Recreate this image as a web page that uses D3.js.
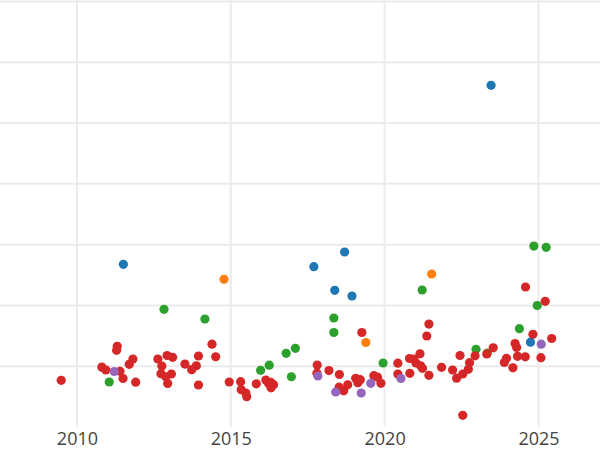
<!DOCTYPE html>
<html>
<head>
<meta charset="utf-8">
<script src="https://cdn.jsdelivr.net/npm/d3@7"></script>
<style>
  html, body { margin: 0; padding: 0; background: #fff; }
  svg { display: block; }
</style>
</head>
<body>
<svg id="chart" width="600" height="450"></svg>
<script>
// ---- Data (year, value) per series ----
const blueX   = [2011.51, 2017.70, 2018.70, 2018.38, 2018.94, 2023.46, 2024.74];
const blueY   = [2.676, 2.637, 2.879, 2.249, 2.155, 5.621, 1.395];

const orangeX = [2014.78, 2019.39, 2021.53];
const orangeY = [2.430, 1.390, 2.517];

const greenX  = [2011.05, 2012.83, 2014.16, 2015.97, 2016.25, 2016.80, 2017.10, 2016.97, 2018.35, 2018.35,
                 2019.95, 2021.22, 2022.97, 2023.34, 2024.38, 2024.85, 2025.25, 2024.96];
const greenY  = [0.740, 1.936, 1.777, 0.933, 1.017, 1.212, 1.295, 0.827, 1.793, 1.555,
                 1.053, 2.254, 1.278, 1.217, 1.617, 2.977, 2.956, 1.999];

const redX = [2009.49, 2011.31, 2011.29, 2010.81, 2010.94, 2011.40, 2011.50, 2011.91, 2011.82, 2011.70,
              2012.63, 2012.76, 2012.93, 2013.11, 2012.73, 2012.89, 2013.07, 2012.95, 2013.51, 2013.73,
              2013.88, 2013.95, 2013.95, 2014.39, 2014.51, 2014.95, 2015.32, 2015.34, 2015.49, 2015.52,
              2015.83, 2016.14, 2016.23, 2016.30, 2016.39, 2016.31, 2017.81, 2017.80, 2018.19, 2018.53,
              2018.52, 2018.67, 2018.80, 2019.06, 2019.21, 2019.13, 2019.26, 2019.65, 2019.77, 2019.88,
              2020.43, 2020.43, 2020.82, 2020.81, 2020.95, 2021.15, 2021.02, 2021.17, 2021.23, 2021.44,
              2021.44, 2021.37, 2021.85, 2022.21, 2022.34, 2022.54, 2022.45, 2022.76, 2022.72, 2022.94,
              2023.32, 2023.53, 2022.54, 2023.89, 2023.96, 2024.17, 2024.24, 2024.29, 2024.32, 2024.57,
              2024.58, 2024.82, 2025.22, 2025.43, 2025.08];
const redY = [0.768, 1.328, 1.262, 0.985, 0.938, 0.916, 0.798, 0.737, 1.119, 1.031,
              1.119, 1.003, 1.176, 1.147, 0.877, 0.827, 0.872, 0.716, 1.036, 0.943,
              1.008, 1.168, 0.691, 1.362, 1.156, 0.740, 0.745, 0.614, 0.559, 0.498,
              0.711, 0.773, 0.716, 0.735, 0.696, 0.645, 1.020, 0.885, 0.929, 0.864,
              0.655, 0.595, 0.694, 0.801, 0.778, 0.729, 1.555, 0.844, 0.819, 0.719,
              1.050, 0.872, 0.883, 1.127, 1.119, 1.204, 1.053, 1.008, 0.966, 0.850,
              1.694, 1.497, 0.982, 0.938, 0.803, 0.872, 1.176, 1.058, 0.949, 1.171,
              1.201, 1.303, 0.192, 1.061, 1.130, 0.974, 1.374, 1.308, 1.163, 1.155,
              2.303, 1.525, 2.068, 1.456, 1.140];

const purpleX = [2011.21, 2017.83, 2018.41, 2019.24, 2019.55, 2020.53, 2025.09];
const purpleY = [0.913, 0.839, 0.576, 0.559, 0.719, 0.798, 1.362];

const xTicks = [2010, 2015, 2020, 2025];
const xTickLabels = ["2010", "2015", "2020", "2025"];
const yGrid = [1, 2, 3, 4, 5, 6, 7];

const series = [
  { xs: blueX,   ys: blueY,   color: "#1f77b4" },
  { xs: orangeX, ys: orangeY, color: "#ff7f0e" },
  { xs: greenX,  ys: greenY,  color: "#2ca02c" },
  { xs: redX,    ys: redY,    color: "#d62728" },
  { xs: purpleX, ys: purpleY, color: "#9467bd" }
];

// ---- Layout ----
const svg = d3.select("#chart");
const W = 600, H = 450;
const plotTop = 1.5, plotBottom = 427;

const x = d3.scaleLinear().domain([2007.5, 2027]).range([0, W]);
const y = d3.scaleLinear().domain([0, 7]).range([plotBottom, plotTop]);

svg.append("rect").attr("width", W).attr("height", H).attr("fill", "#fff");

// Horizontal gridlines
svg.append("g")
  .selectAll("line")
  .data(yGrid)
  .join("line")
  .attr("x1", 0).attr("x2", W)
  .attr("y1", d => y(d)).attr("y2", d => y(d))
  .attr("stroke", "#ebebeb")
  .attr("stroke-width", 2);

// Vertical gridlines
svg.append("g")
  .selectAll("line")
  .data(xTicks)
  .join("line")
  .attr("x1", d => x(d)).attr("x2", d => x(d))
  .attr("y1", 0).attr("y2", plotBottom)
  .attr("stroke", "#ebebeb")
  .attr("stroke-width", 2);

// X axis labels via d3 axis
const xAxis = d3.axisBottom(x)
  .tickValues(xTicks)
  .tickFormat((d, i) => xTickLabels[i])
  .tickSize(0)
  .tickPadding(0);

const gx = svg.append("g")
  .attr("transform", `translate(0, ${plotBottom})`)
  .call(xAxis);
gx.select(".domain").remove();
gx.selectAll("text")
  .attr("dy", null)
  .attr("y", 17.5)
  .attr("fill", "#444")
  .style("font-family", "'Open Sans', sans-serif")
  .style("font-size", "18px");

// Points
series.forEach(s => {
  const pts = s.xs.map((v, i) => [v, s.ys[i]]);
  svg.append("g")
    .selectAll("circle")
    .data(pts)
    .join("circle")
    .attr("cx", d => x(d[0]))
    .attr("cy", d => y(d[1]))
    .attr("r", 4.6)
    .attr("fill", s.color);
});
</script>
</body>
</html>
